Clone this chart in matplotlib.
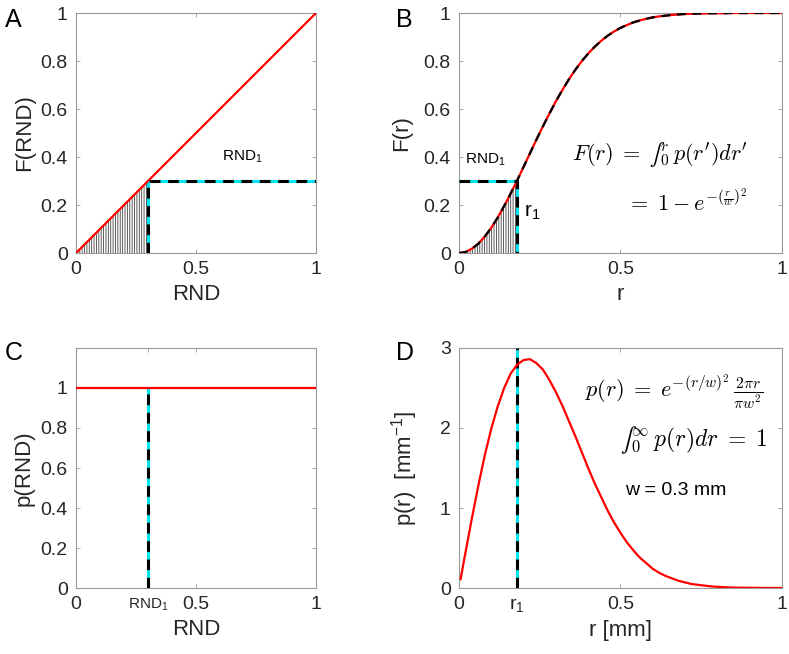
import matplotlib
matplotlib.use("Agg")
import matplotlib.pyplot as plt

plt.rcParams['font.family'] = ['Liberation Sans', 'DejaVu Sans']
plt.rcParams['mathtext.fontset'] = 'custom'
plt.rcParams['mathtext.rm'] = 'Liberation Sans'
plt.rcParams['mathtext.it'] = 'Liberation Sans'
plt.rcParams['hatch.linewidth'] = 0.6

# ---- data ----
rnd1 = 0.3          # drawn random number
r1 = 0.18           # corresponding radius (mm)
w_mm = 0.3

rnd_line = [0, 1]   # F(RND) = RND
p_rnd = [1, 1]      # uniform density

r_grid = [0.00, 0.02, 0.04, 0.06, 0.08, 0.10, 0.12, 0.14, 0.16, 0.18,
          0.20, 0.22, 0.24, 0.26, 0.28, 0.30, 0.32, 0.34, 0.36, 0.38,
          0.40, 0.42, 0.44, 0.46, 0.48, 0.50, 0.52, 0.54, 0.56, 0.58,
          0.60, 0.62, 0.64, 0.66, 0.68, 0.70, 0.72, 0.74, 0.76, 0.78,
          0.80, 0.82, 0.84, 0.86, 0.88, 0.90, 0.92, 0.94, 0.96, 0.98, 1.00]
F_r = [0.000, 0.004, 0.018, 0.039, 0.069, 0.105, 0.148, 0.196, 0.248, 0.302,
       0.359, 0.416, 0.473, 0.528, 0.581, 0.632, 0.679, 0.723, 0.763, 0.799,
       0.831, 0.859, 0.884, 0.905, 0.923, 0.938, 0.950, 0.961, 0.969, 0.976,
       0.982, 0.986, 0.989, 0.992, 0.994, 0.996, 0.997, 0.998, 0.998, 0.999,
       0.999, 0.999, 1.000, 1.000, 1.000, 1.000, 1.000, 1.000, 1.000, 1.000, 1.000]

r_pdf = [0.005] + r_grid[1:]
p_r = [0.11, 0.44, 0.87, 1.28, 1.66, 1.99, 2.27, 2.50, 2.68, 2.79,
       2.85, 2.86, 2.81, 2.73, 2.60, 2.45, 2.28, 2.09, 1.90, 1.70,
       1.50, 1.31, 1.14, 0.97, 0.82, 0.69, 0.57, 0.47, 0.38, 0.31,
       0.24, 0.19, 0.15, 0.12, 0.09, 0.07, 0.05, 0.04, 0.03, 0.02,
       0.015, 0.010, 0.007, 0.005, 0.004, 0.003, 0.002, 0.001, 0.001, 0.0005, 0.0003]

red = '#ff0000'
cyan = '#00e5ee'


def style_axes(ax):
    for s in ax.spines.values():
        s.set_color('0.6')
        s.set_linewidth(0.8)
    ax.tick_params(direction='in', length=3, width=0.6, color='0.6',
                   top=True, right=True, labelsize=14, labelcolor='0.15', pad=6)


def dashed_marker(ax, xs, ys):
    ax.plot(xs, ys, color=cyan, lw=2.2, solid_capstyle='butt', zorder=3)
    ax.plot(xs, ys, color='black', lw=2.2, dashes=(3.5, 2.5), zorder=4)


fig = plt.figure(figsize=(7.89, 6.54), dpi=100)
axA = fig.add_axes([0.0963, 0.6131, 0.3042, 0.367])
axB = fig.add_axes([0.5817, 0.6131, 0.4094, 0.367])
axC = fig.add_axes([0.0963, 0.1009, 0.3042, 0.367])
axD = fig.add_axes([0.5817, 0.1009, 0.4094, 0.367])

# ---- A ----
axA.fill_between([0, rnd1], [0, 0], [0, rnd1], facecolor='none',
                 edgecolor='0.25', hatch='|||||||', lw=0)
axA.plot(rnd_line, rnd_line, color=red, lw=1.6, zorder=5)
dashed_marker(axA, [rnd1, rnd1, 1], [0, rnd1, rnd1])
axA.text(0.61, 0.40, 'RND$_1$', fontsize=11, va='center')
axA.set_xlim(0, 1)
axA.set_ylim(0, 1)
axA.set_xticks([0, 0.5, 1], ['0', '0.5', '1'])
axA.set_yticks([0, 0.2, 0.4, 0.6, 0.8, 1], ['0', '0.2', '0.4', '0.6', '0.8', '1'])
axA.set_xlabel('RND', fontsize=16, color='0.15')
axA.set_ylabel('F(RND)', fontsize=16, color='0.15')

# ---- B ----
sel = [r <= r1 + 1e-9 for r in r_grid]
axB.fill_between(r_grid, 0, F_r, where=sel, facecolor='none',
                 edgecolor='0.25', hatch='|||||||', lw=0)
axB.plot(r_grid, F_r, color=red, lw=1.6, zorder=5)
axB.plot(r_grid, F_r, color='black', lw=1.6, dashes=(4, 3), zorder=6)
dashed_marker(axB, [0, r1, r1], [rnd1, rnd1, 0])
axB.text(0.02, 0.39, 'RND$_1$', fontsize=11, va='center')
axB.text(0.20, 0.17, 'r$_1$', fontsize=15, va='center')
axB.text(0.35, 0.41, r"$F(r)\;=\;∫_0^r\, p(r')dr'$", fontsize=16,
         va='center', math_fontfamily='cm')
axB.text(0.52, 0.21, r"$=\;1 - e^{-(\frac{r}{w})^2}$", fontsize=16,
         va='center', math_fontfamily='cm')
axB.set_xlim(0, 1)
axB.set_ylim(0, 1)
axB.set_xticks([0, 0.5, 1], ['0', '0.5', '1'])
axB.set_yticks([0, 0.2, 0.4, 0.6, 0.8, 1], ['0', '0.2', '0.4', '0.6', '0.8', '1'])
axB.set_xlabel('r', fontsize=16, color='0.15')
axB.set_ylabel('F(r)', fontsize=16, color='0.15', labelpad=8)

# ---- C ----
axC.plot(rnd_line, p_rnd, color=red, lw=1.6, zorder=5)
dashed_marker(axC, [rnd1, rnd1], [0, 1])
axC.set_xlim(0, 1)
axC.set_ylim(0, 1.2)
axC.set_xticks([0, rnd1, 0.5, 1], ['0', 'RND$_1$', '0.5', '1'])
axC.set_yticks([0, 0.2, 0.4, 0.6, 0.8, 1], ['0', '0.2', '0.4', '0.6', '0.8', '1'])
axC.set_xlabel('RND', fontsize=16, color='0.15')
axC.set_ylabel('p(RND)', fontsize=16, color='0.15')

# ---- D ----
axD.plot(r_pdf, p_r, color=red, lw=1.6, zorder=5)
dashed_marker(axD, [r1, r1], [0, 3])
axD.text(0.39, 2.45, r"$p(r)\;=\;e^{-(r/w)^2}\,\frac{2\pi r}{\pi w^2}$", fontsize=16,
         va='center', math_fontfamily='cm')
axD.text(0.50, 1.85, r"$∫_0^\infty\, p(r)dr\;=\;1$", fontsize=17,
         va='center', math_fontfamily='cm')
axD.text(0.515, 1.22, 'w = %.1f mm' % w_mm, fontsize=14, va='center')
axD.set_xlim(0, 1)
axD.set_ylim(0, 3)
axD.set_xticks([0, r1, 0.5, 1], ['0', 'r$_1$', '0.5', '1'])
axD.set_yticks([0, 1, 2, 3], ['0', '1', '2', '3'])
axD.set_xlabel('r [mm]', fontsize=16, color='0.15')
axD.set_ylabel('p(r)  [mm$^{-1}$]', fontsize=16, color='0.15', labelpad=14)

for ax in (axA, axB, axC, axD):
    style_axes(ax)
axC.get_xticklabels()[1].set_fontsize(11)

for lab, x, y in (('A', 0.006, 0.988), ('B', 0.502, 0.988),
                  ('C', 0.006, 0.478), ('D', 0.502, 0.478)):
    fig.text(x, y, lab, fontsize=18, va='top', ha='left')

fig.savefig('out.png', dpi=100)
